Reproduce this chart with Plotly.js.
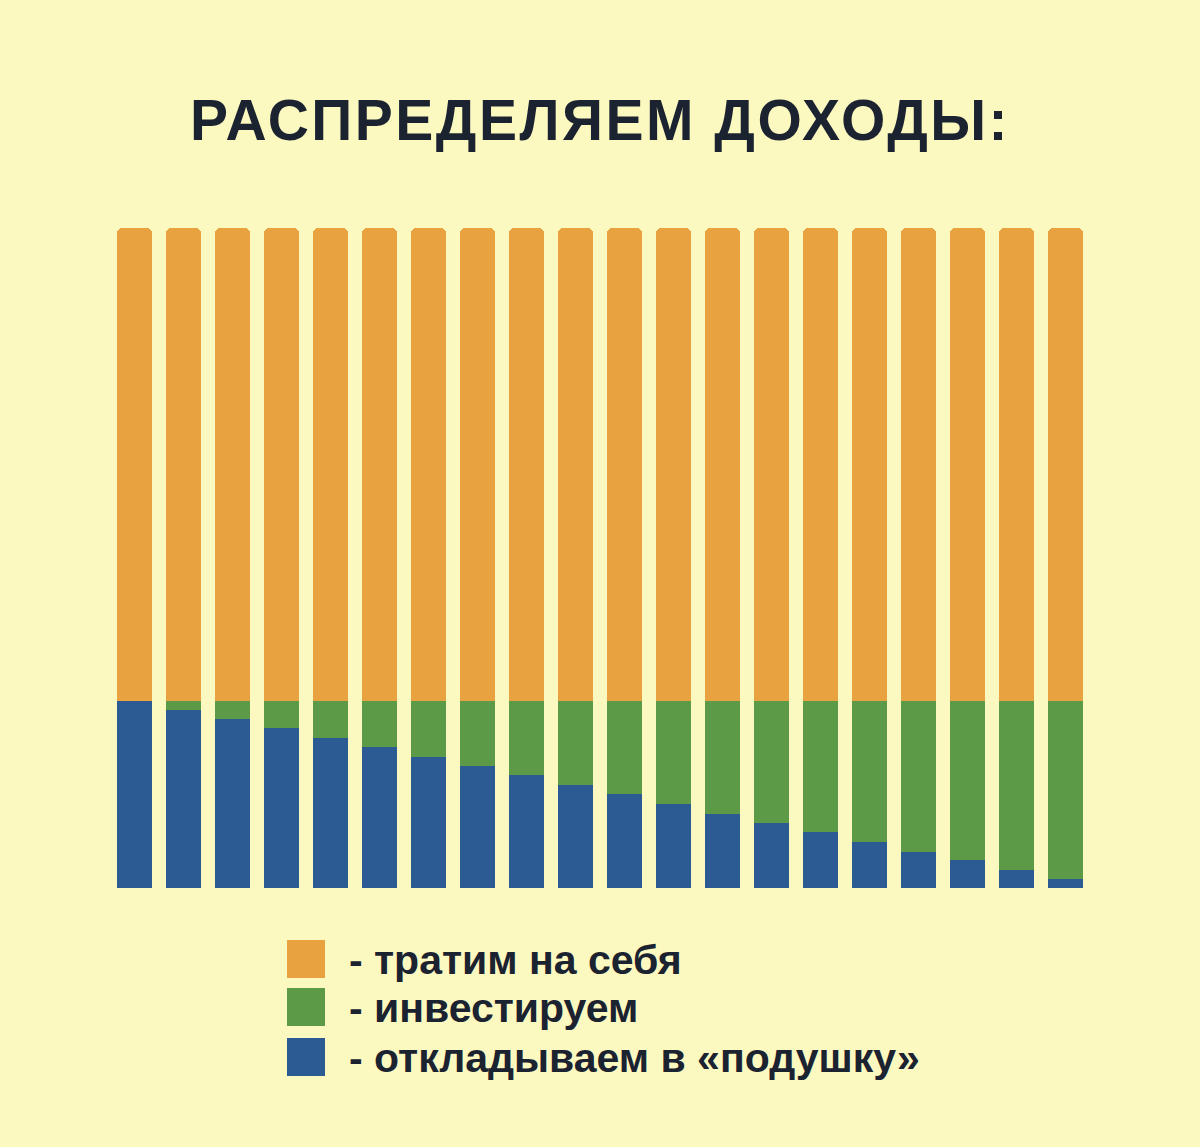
<!DOCTYPE html>
<html><head><meta charset="utf-8">
<script src="https://cdn.plot.ly/plotly-3.0.1.min.js"></script>
<style>
html,body{margin:0;padding:0;background:#FCF9C0;}
#chart{width:1200px;height:1147px;}
#chart .gtitle{letter-spacing:2.5px;}
</style>
</head><body><div id="chart"></div>
<script>
const categories = ["1","2","3","4","5","6","7","8","9","10","11","12","13","14","15","16","17","18","19","20"];
const savings = [28.4,27.0,25.6,24.2,22.7,21.4,19.8,18.5,17.1,15.6,14.2,12.7,11.2,9.8,8.5,7.0,5.5,4.2,2.7,1.3];
const investing = [0,1.4,2.8,4.2,5.7,7.0,8.6,9.9,11.3,12.8,14.2,15.7,17.2,18.6,19.9,21.4,22.9,24.2,25.7,27.1];
const spending = [71.6,71.6,71.6,71.6,71.6,71.6,71.6,71.6,71.6,71.6,71.6,71.6,71.6,71.6,71.6,71.6,71.6,71.6,71.6,71.6];
const seriesNames = ["- тратим на себя","- инвестируем","- откладываем в «подушку»"];
const colors = {spend:"#E8A23F", invest:"#5C9A47", save:"#2C5A92"};

const traces = [
  {type:"bar", x:categories, y:savings, name:seriesNames[2], marker:{color:colors.save}, hoverinfo:"y+name"},
  {type:"bar", x:categories, y:investing, name:seriesNames[1], marker:{color:colors.invest}, hoverinfo:"y+name"},
  {type:"bar", x:categories, y:spending, name:seriesNames[0], marker:{color:colors.spend}, hoverinfo:"y+name"}
];

const H = 1147;
const plotH = H-228-259;
function py(p){ return (H-259-p)/plotH; }
function px(p){ return (p-110)/980; }
const legendItems = [
  {name:seriesNames[0], color:colors.spend, y:959},
  {name:seriesNames[1], color:colors.invest, y:1007},
  {name:seriesNames[2], color:colors.save, y:1057}
];
const shapes = legendItems.map(it => ({type:"rect", xref:"paper", yref:"paper",
  x0:px(287), x1:px(325), y0:py(it.y+19), y1:py(it.y-19),
  fillcolor:it.color, line:{width:0}}));
const annotations = legendItems.map(it => ({xref:"paper", yref:"paper", x:px(347), y:py(it.y+1),
  xanchor:"left", yanchor:"middle", align:"left", showarrow:false, text:"<b>"+it.name+"</b>",
  font:{family:"Liberation Sans, Arial, sans-serif", size:41, color:"#1B2230"}}));

const layout = {
  width:1200, height:1147,
  paper_bgcolor:"#FCF9C0", plot_bgcolor:"#FCF9C0",
  margin:{l:110, r:110, t:228, b:259},
  barmode:"stack", bargap:0.27, barcornerradius:6,
  showlegend:false,
  title:{text:"<b>РАСПРЕДЕЛЯЕМ ДОХОДЫ:</b>", x:0.5, xanchor:"center", y:1-120/1147, yanchor:"middle",
    font:{family:"Liberation Sans, Arial, sans-serif", size:57, color:"#1B2230"}},
  xaxis:{visible:false, fixedrange:true},
  yaxis:{visible:false, range:[0,100], fixedrange:true},
  shapes:shapes, annotations:annotations
};
Plotly.newPlot("chart", traces, layout, {displayModeBar:false, staticPlot:true});
</script></body></html>
